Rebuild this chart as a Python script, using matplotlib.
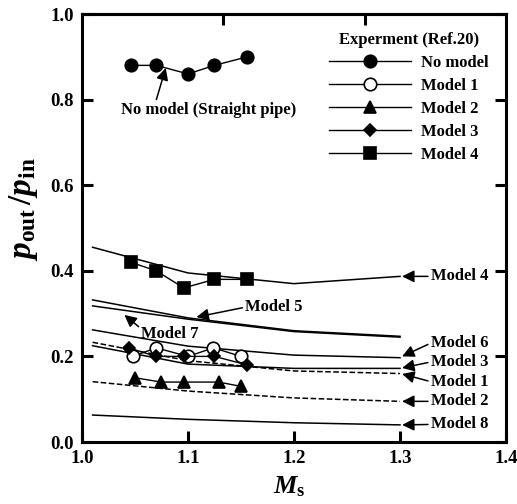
import matplotlib
matplotlib.use("Agg")
import matplotlib.pyplot as plt

plt.rcParams["font.family"] = "Liberation Serif"
plt.rcParams["font.weight"] = "bold"
plt.rcParams["mathtext.fontset"] = "custom"
plt.rcParams["mathtext.rm"] = "Liberation Serif:bold"
plt.rcParams["mathtext.it"] = "Liberation Serif:italic:bold"
plt.rcParams["mathtext.bf"] = "Liberation Serif:bold"

# Experiment (Ref.20)
ms_nomodel = [1.046, 1.070, 1.100, 1.125, 1.156]
p_nomodel = [0.88, 0.88, 0.86, 0.88, 0.90]
ms_exp1 = [1.048, 1.070, 1.100, 1.124, 1.150]
p_exp1 = [0.20, 0.22, 0.20, 0.22, 0.20]
ms_exp2 = [1.050, 1.075, 1.096, 1.129, 1.150]
p_exp2 = [0.15, 0.14, 0.14, 0.14, 0.13]
ms_exp3 = [1.044, 1.070, 1.096, 1.125, 1.156]
p_exp3 = [0.22, 0.20, 0.20, 0.20, 0.18]
ms_exp4 = [1.046, 1.070, 1.096, 1.125, 1.156]
p_exp4 = [0.42, 0.40, 0.36, 0.38, 0.38]

# Calculation
ms_calc = [1.01, 1.1, 1.2, 1.3]
p_calc = {
    "Model 1": [0.233, 0.190, 0.166, 0.160],
    "Model 2": [0.141, 0.119, 0.103, 0.095],
    "Model 3": [0.225, 0.182, 0.172, 0.172],
    "Model 4": [0.455, 0.395, 0.370, 0.387],
    "Model 5": [0.332, 0.290, 0.260, 0.247],
    "Model 6": [0.262, 0.224, 0.203, 0.197],
    "Model 7": [0.318, 0.287, 0.258, 0.245],
    "Model 8": [0.063, 0.053, 0.045, 0.040],
}
dashed = ["Model 1", "Model 2"]

fig = plt.figure(figsize=(5.17, 5.04), dpi=100)
ax = fig.add_axes([0.1586, 0.1230, 0.8201, 0.8492])

for name, vals in p_calc.items():
    ax.plot(ms_calc, vals, color="k", lw=1.1, ls="--" if name in dashed else "-")

exp_sets = [
    (ms_nomodel, p_nomodel, "o", "k", 9, "No model"),
    (ms_exp1, p_exp1, "o", "white", 9, "Model 1"),
    (ms_exp2, p_exp2, "^", "k", 9, "Model 2"),
    (ms_exp3, p_exp3, "D", "k", 6.5, "Model 3"),
    (ms_exp4, p_exp4, "s", "k", 8, "Model 4"),
]
handles = []
for xs, ys, mk, fc, size, lab in exp_sets:
    h, = ax.plot(xs, ys, color="k", lw=1.0, marker=mk, mfc=fc, mec="k",
                 mew=1.2, ms=size, label=lab)
    handles.append(h)

leg = ax.legend(handles=handles, title="Experment (Ref.20)", loc="upper left",
                bbox_to_anchor=(0.555, 0.985), frameon=False, fontsize=12,
                title_fontproperties={"weight": "bold", "size": 12},
                handlelength=4.9, handletextpad=0.6, labelspacing=0.42,
                borderpad=0.2)

# labels on the right ends of the calculated lines
arrow = dict(arrowstyle="-|>", color="k", lw=1.1, mutation_scale=18,
             shrinkA=0, shrinkB=0, relpos=(0, 0.5))
right_labels = [
    ("Model 4", 0.387, 0.387),
    ("Model 6", 0.200, 0.231),
    ("Model 3", 0.173, 0.187),
    ("Model 1", 0.159, 0.141),
    ("Model 2", 0.095, 0.095),
    ("Model 8", 0.040, 0.041),
]
for lab, ytip, ytxt in right_labels:
    ax.annotate(lab, xy=(1.302, ytip), xytext=(1.329, ytxt), fontsize=12,
                ha="left", va="center", arrowprops=arrow)

ax.annotate("Model 5", xy=(1.108, 0.292), xytext=(1.154, 0.315), fontsize=12,
            ha="left", va="center", arrowprops=arrow)
ax.annotate("Model 7", xy=(1.040, 0.297), xytext=(1.056, 0.253), fontsize=12,
            ha="left", va="center",
            arrowprops=dict(arrow, relpos=(0, 0.8)))
ax.annotate("No model (Straight pipe)", xy=(1.079, 0.874), xytext=(1.119, 0.775),
            fontsize=12, ha="center", va="center",
            arrowprops=dict(arrow, relpos=(0.2, 1.0)))

ax.set_xlim(1.0, 1.4)
ax.set_ylim(0.0, 1.0)
ax.set_xticks([1.0, 1.1, 1.2, 1.3, 1.4])
ax.set_yticks([0.0, 0.2, 0.4, 0.6, 0.8, 1.0])
ax.set_xticklabels(["1.0", "1.1", "1.2", "1.3", "1.4"])
ax.set_yticklabels(["0.0", "0.2", "0.4", "0.6", "0.8", "1.0"])
ax.tick_params(direction="in", length=8, width=2.2, labelsize=13.5,
               right=True, pad=6)
for sp in ax.spines.values():
    sp.set_linewidth(2.2)

# top axis ticks sit at thirds of the range
top = ax.secondary_xaxis("top")
top.set_xticks([1.0 + 0.4 / 3, 1.0 + 0.8 / 3])
top.set_xticklabels([])
top.tick_params(direction="in", length=8, width=2.2)
top.spines["top"].set_linewidth(2.2)

ax.set_xlabel(r"$M_{\mathrm{s}}$", fontsize=19, labelpad=1)
ax.xaxis.set_label_coords(0.49, -0.075)
ax.set_ylabel(r"$p_{\mathrm{out}}\,/p_{\mathrm{in}}$", fontsize=24)
ax.yaxis.set_label_coords(-0.1, 0.545)

fig.savefig("out.png", dpi=100)
